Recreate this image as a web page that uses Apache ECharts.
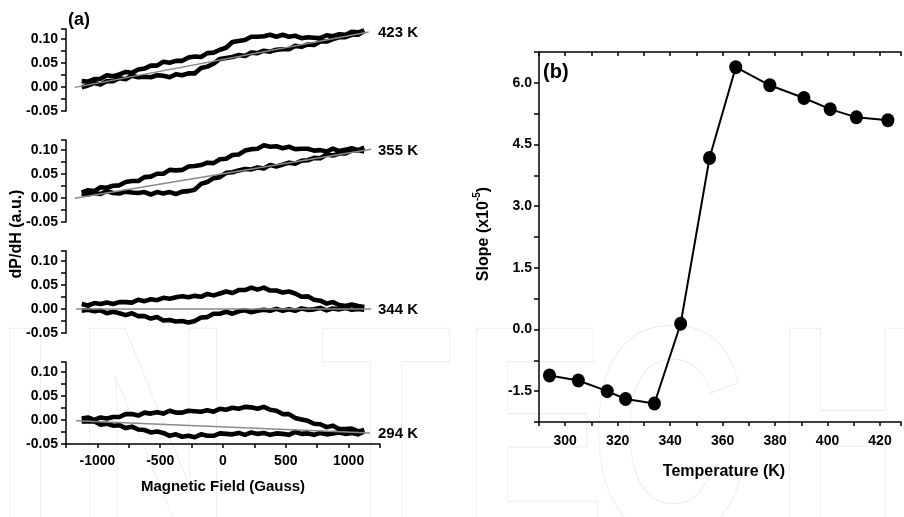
<!DOCTYPE html>
<html>
<head>
<meta charset="utf-8">
<script src="https://cdn.jsdelivr.net/npm/echarts@6/dist/echarts.min.js"></script>
<style>
  html, body { margin: 0; padding: 0; background: #ffffff; }
  #chart { width: 904px; height: 517px; }
</style>
</head>
<body>
<div id="chart"></div>
<script>
const FONT = '"Liberation Sans", Arial, Helvetica, sans-serif';

// ---- Panel (a): EPR derivative loops, field sweep in Gauss ----
const field = [-1125,-1075,-1025,-975,-925,-875,-825,-775,-725,-675,-625,-575,-525,-475,-425,-375,-325,-275,-225,-175,-125,-75,-25,
               25,75,125,175,225,275,325,375,425,475,525,575,625,675,725,775,825,875,925,975,1025,1075,1125];

// dP/dH in units of 1e-3 a.u. (upper and lower sweep branches)
const up423   = [12,11,16,17,24,22,26,31,29,36,38,44,44,52,50,54,54,61,63,62,70,71,77,81,93,95,97,104,104,105,108,104,108,104,106,101,103,102,101,107,105,109,108,114,113,117];
const down423 = [-1,3,8,5,12,12,18,16,23,20,21,20,24,23,20,26,24,28,28,39,42,48,58,60,62,66,64,71,70,75,73,77,78,78,85,83,88,87,94,94,99,103,103,108,108,116];
const up355   = [11,16,14,22,21,25,26,33,35,35,43,44,50,50,58,57,58,65,66,68,73,72,80,81,89,90,98,101,102,109,106,107,103,106,101,102,102,98,99,96,102,97,100,103,99,104];
const down355 = [9,7,10,8,14,10,9,13,11,10,12,7,12,9,12,8,13,14,17,29,33,41,43,52,53,57,60,59,63,61,68,65,69,73,71,77,78,83,82,90,88,92,92,98,99,96];
const up344   = [10,7,12,10,13,10,14,14,13,19,16,20,18,23,21,24,26,24,27,25,31,28,32,36,33,39,39,44,40,44,38,38,34,36,32,25,26,19,17,11,14,8,6,9,6,4];
const down344 = [-4,-2,-5,-3,-9,-6,-9,-13,-9,-15,-15,-20,-17,-24,-23,-26,-25,-28,-25,-18,-17,-10,-10,-6,-10,-5,-3,-7,-4,-2,-4,0,-4,-1,-4,1,-2,-1,2,-3,1,-1,2,-2,0,-2];
const up294   = [3,5,0,5,3,6,6,12,12,9,15,13,16,13,19,15,15,19,18,17,20,17,23,21,25,23,27,26,23,27,21,19,12,12,4,1,-2,-8,-9,-15,-12,-19,-19,-18,-24,-21];
const down294 = [-3,-3,-3,-10,-8,-12,-11,-17,-14,-20,-21,-26,-24,-27,-33,-30,-35,-33,-36,-30,-33,-33,-28,-29,-30,-27,-31,-26,-29,-27,-31,-28,-29,-31,-25,-29,-28,-31,-27,-30,-28,-26,-29,-27,-30,-24];

// linear fits (field, dP/dH)
const fit423 = [[-1180, -0.001], [1160, 0.114]];
const fit355 = [[-1180, -0.001], [1180, 0.101]];
const fit344 = [[-1170, 0.000], [1180, 0.000]];
const fit294 = [[-1170, -0.002], [1170, -0.027]];

const panelLabels = ['423 K', '355 K', '344 K', '294 K'];
const yTicksA = [-0.05, 0.00, 0.05, 0.10];
const xTicksA = [-1000, -500, 0, 500, 1000];

// ---- Panel (b): fitted slope vs temperature ----
const temps  = [294, 305, 316, 323, 334, 344, 355, 365, 378, 391, 401, 411, 423];
const slopes = [-1.12, -1.24, -1.50, -1.69, -1.80, 0.14, 4.17, 6.38, 5.94, 5.63, 5.36, 5.16, 5.09];
const yTicksB = [-1.5, 0.0, 1.5, 3.0, 4.5, 6.0];
const xTicksB = [300, 320, 340, 360, 380, 400, 420];

const branches = [[up423, down423, fit423], [up355, down355, fit355], [up344, down344, fit344], [up294, down294, fit294]];
const subTops = [29, 140, 251, 362];
const labelY = [33, 151, 310, 434];

const axisLineStyle = { color: '#000', width: 1.5 };
const tickFont = { color: '#000', fontFamily: FONT, fontWeight: 'bold', fontSize: 14 };

function near(v, list) { return list.some(t => Math.abs(t - v) < 1e-6); }

const grids = [], xAxes = [], yAxes = [], series = [];

branches.forEach((b, i) => {
  grids.push({ left: 66, top: subTops[i], width: 314, height: 82 });
  const bottom = i === 3;
  xAxes.push({
    gridIndex: i, type: 'value', min: -1250, max: 1250, interval: 250,
    axisLine: { show: bottom, onZero: false, lineStyle: axisLineStyle },
    axisTick: { show: bottom, length: 4, lineStyle: axisLineStyle },
    axisLabel: { show: bottom, margin: 10, ...tickFont, formatter: v => near(v, xTicksA) ? String(v) : '' },
    splitLine: { show: false }
  });
  yAxes.push({
    gridIndex: i, type: 'value', min: -0.05, max: 0.12, interval: 0.025,
    axisLine: { show: true, onZero: false, lineStyle: axisLineStyle },
    axisTick: { show: true, length: 5, lineStyle: axisLineStyle },
    axisLabel: { margin: 8, ...tickFont, formatter: v => near(v, yTicksA) ? v.toFixed(2) : '' },
    splitLine: { show: false }
  });
  [b[0], b[1]].forEach(arr => {
    series.push({
      type: 'line', xAxisIndex: i, yAxisIndex: i, symbol: 'none', silent: true,
      data: field.map((h, k) => [h, arr[k] / 1000]),
      lineStyle: { color: '#000', width: 4.6, join: 'round' }, z: 2
    });
  });
  series.push({
    type: 'line', xAxisIndex: i, yAxisIndex: i, symbol: 'none', silent: true,
    data: b[2], lineStyle: { color: '#8a8a8a', width: 1.5 }, z: 3
  });
});

// panel (b); the plot frame runs to the right edge of the canvas
grids.push({ left: 539, top: 52, width: 365, height: 370 });
xAxes.push({
  gridIndex: 4, type: 'value', min: 290, max: 428, interval: 10,
  axisLine: { onZero: false, lineStyle: axisLineStyle },
  axisTick: { length: 4, lineStyle: axisLineStyle },
  axisLabel: { margin: 12, ...tickFont, formatter: v => near(v, xTicksB) ? String(v) : '' },
  splitLine: { show: false }
});
xAxes.push({
  gridIndex: 4, type: 'value', position: 'top', min: 290, max: 428, interval: 10,
  axisLine: { onZero: false, lineStyle: axisLineStyle },
  axisTick: { inside: true, length: 4, lineStyle: axisLineStyle },
  axisLabel: { show: false }, splitLine: { show: false }
});
yAxes.push({
  gridIndex: 4, type: 'value', min: -2.25, max: 6.75, interval: 0.75,
  axisLine: { show: true, onZero: false, lineStyle: axisLineStyle },
  axisTick: { length: 5, lineStyle: axisLineStyle },
  axisLabel: { margin: 7, ...tickFont, formatter: v => near(v, yTicksB) ? v.toFixed(1) : '' },
  splitLine: { show: false }
});
series.push({
  type: 'line', xAxisIndex: 4, yAxisIndex: 4, silent: true,
  data: temps.map((t, k) => [t, slopes[k]]),
  symbol: 'circle', symbolSize: [13, 14],
  itemStyle: { color: '#000' },
  lineStyle: { color: '#000', width: 2 }, z: 4
});

const boldText = (size) => ({ fill: '#000', font: 'bold ' + size + 'px ' + FONT });

const graphics = [];
// faint publisher mark in the background
const markLetters = ['I', 'N', 'T', 'E', 'C', 'H'];
const markX = [-5, 75, 320, 462, 590, 775];
markLetters.forEach((ch, k) => {
  graphics.push({
    type: 'text', x: markX[k], y: 302, scaleX: 0.72, silent: true, z: -10,
    style: { text: ch, fill: 'none', stroke: '#ebebeb', lineWidth: 1.1, font: 'bold 300px ' + FONT, verticalAlign: 'top' }
  });
});
graphics.push({ type: 'text', x: 68, y: 20, style: { ...boldText(18), text: '(a)', verticalAlign: 'middle' } });
graphics.push({ type: 'text', x: 543, y: 72, style: { ...boldText(20), text: '(b)', verticalAlign: 'middle' } });
panelLabels.forEach((t, i) => {
  graphics.push({ type: 'text', x: 378, y: labelY[i], style: { ...boldText(15), text: t, verticalAlign: 'middle' } });
});
graphics.push({ type: 'text', x: 223, y: 487, style: { ...boldText(15), text: 'Magnetic Field (Gauss)', align: 'center', verticalAlign: 'middle' } });
graphics.push({ type: 'text', x: 724, y: 472, style: { ...boldText(16), text: 'Temperature (K)', align: 'center', verticalAlign: 'middle' } });
graphics.push({ type: 'text', x: 17, y: 234, rotation: Math.PI / 2, style: { ...boldText(16), text: 'dP/dH (a.u.)', align: 'center', verticalAlign: 'middle' } });
graphics.push({
  type: 'text', x: 482, y: 234, rotation: Math.PI / 2,
  style: {
    text: '{a|Slope (x10}{s|-5}{a|)}', align: 'center', verticalAlign: 'middle',
    rich: {
      a: { fill: '#000', fontSize: 16, fontWeight: 'bold', fontFamily: FONT, lineHeight: 20, verticalAlign: 'bottom' },
      s: { fill: '#000', fontSize: 10, fontWeight: 'bold', fontFamily: FONT, lineHeight: 20, verticalAlign: 'top', padding: [0, 0, 8, 0] }
    }
  }
});

const chart = echarts.init(document.getElementById('chart'), null, { renderer: 'canvas' });
chart.setOption({
  animation: false,
  backgroundColor: '#ffffff',
  grid: grids,
  xAxis: xAxes,
  yAxis: yAxes,
  series: series,
  graphic: graphics
});
</script>
</body>
</html>
